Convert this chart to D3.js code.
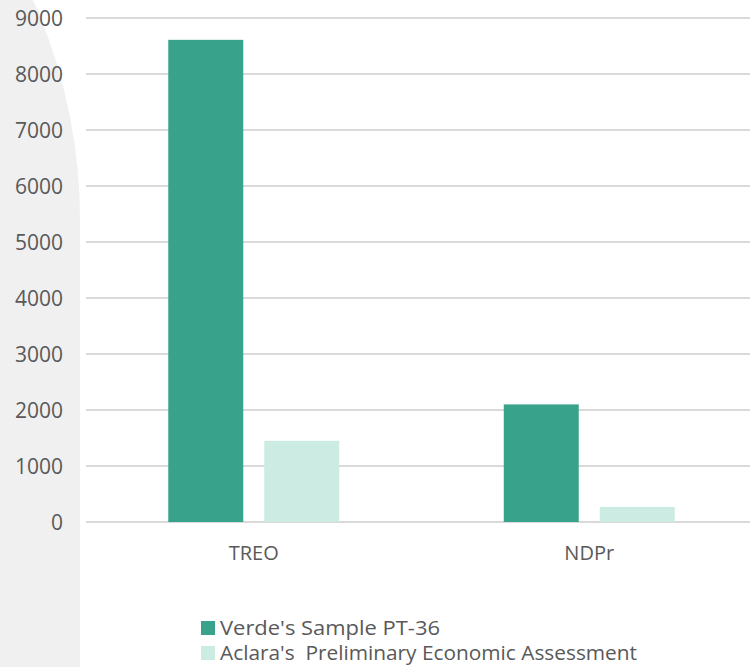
<!DOCTYPE html>
<html><head><meta charset="utf-8">
<script src="https://cdn.jsdelivr.net/npm/d3@7"></script>
<style>html,body{margin:0;padding:0;background:#fff;overflow:hidden}</style>
</head><body>
<svg id="c" width="750" height="667"></svg>
<script>
const categories = ["TREO", "NDPr"];
const seriesNames = ["Verde's Sample PT-36", "Aclara's  Preliminary Economic Assessment"];
const verde = [8610, 2100];
const aclara = [1450, 270];
const yTicks = [0, 1000, 2000, 3000, 4000, 5000, 6000, 7000, 8000, 9000];
const colors = ["#38a38a", "#cbebe3"];

const svg = d3.select("#c");
const font = "'Open Sans', sans-serif";

// background decoration
svg.append("circle").attr("cx", 80 - 538).attr("cy", 220).attr("r", 538).attr("fill", "#f0f0f0");
svg.append("rect").attr("x", 0).attr("y", 220).attr("width", 80).attr("height", 447).attr("fill", "#f0f0f0");

const y = d3.scaleLinear().domain([0, 9000]).range([522, 18]);
const x0 = d3.scaleBand().domain(categories).range([86, 757]);
const x1 = d3.scaleBand().domain([0, 1]).range([0, x0.bandwidth()]).paddingInner(0.219).paddingOuter(0.857);

// gridlines
svg.append("g").selectAll("line").data(yTicks).join("line")
  .attr("x1", 86).attr("x2", 750)
  .attr("y1", d => y(d)).attr("y2", d => y(d))
  .attr("stroke", "#d9d9d9").attr("stroke-width", 2);

// y axis labels
const yAxis = d3.axisLeft(y).tickValues(yTicks).tickSize(0).tickPadding(0).tickFormat(d3.format("d"));
const ya = svg.append("g").attr("transform", "translate(63,0)").call(yAxis);
ya.select(".domain").remove();
ya.selectAll("text").attr("fill", "#595959").style("font-family", font).style("font-size", "21px").attr("dy", "0.35em");

// bars
const data = categories.map((c, i) => ({c, vals: [verde[i], aclara[i]]}));
const g = svg.append("g");
data.forEach(d => {
  g.selectAll(null).data(d.vals).join("rect")
    .attr("x", (v, j) => x0(d.c) + x1(j))
    .attr("width", x1.bandwidth())
    .attr("y", v => y(v))
    .attr("height", v => y(0) - y(v))
    .attr("fill", (v, j) => colors[j]);
});

// x axis labels
const xAxis = d3.axisBottom(x0).tickSize(0).tickPadding(0);
const xa = svg.append("g").attr("transform", "translate(0,553)").call(xAxis);
xa.select(".domain").remove();
xa.selectAll("text").attr("fill", "#595959").style("font-family", font).style("font-size", "20px").attr("dy", "0.35em");

// legend
const lg = svg.append("g");
seriesNames.forEach((s, i) => {
  lg.append("rect").attr("x", 201).attr("y", 621 + i * 25).attr("width", 14).attr("height", 14).attr("fill", colors[i]);
  lg.append("text").attr("x", 220).attr("y", 628 + i * 25).attr("dy", "0.35em")
    .attr("fill", "#595959").style("font-family", font).style("font-size", "20px")
    .attr("textLength", i === 0 ? 220 : 417).attr("lengthAdjust", "spacingAndGlyphs")
    .style("white-space", "pre").attr("xml:space", "preserve").text(s);
});
</script>
</body></html>
